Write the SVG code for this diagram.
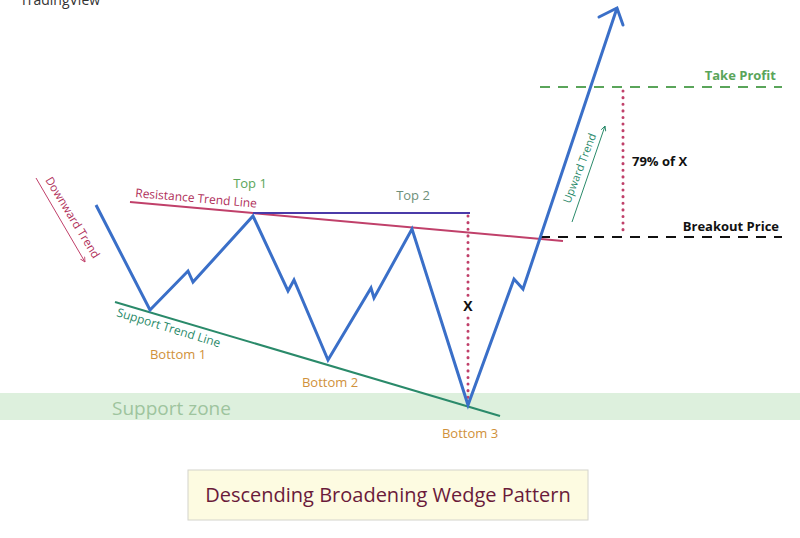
<svg xmlns="http://www.w3.org/2000/svg" width="800" height="538" viewBox="0 0 800 538">
<defs>
<style>
text{font-family:"Open Sans","DejaVu Sans",sans-serif;}
.lbl{font-size:13px;}
.bot{fill:#d0913a;font-size:13px;text-anchor:middle;}
.price{fill:none;stroke:#3a6fc8;stroke-width:3;stroke-linejoin:miter;}
.dot{stroke:#c0406a;stroke-width:3;stroke-dasharray:0.1 6.5;stroke-linecap:round;fill:none;}
</style>
<marker id="arrR" viewBox="0 0 10 10" refX="9" refY="5" markerWidth="6" markerHeight="6" orient="auto"><path d="M1,1 L9,5 L1,9" fill="none" stroke="#c0406a" stroke-width="1.5"/></marker>
<marker id="arrG" viewBox="0 0 10 10" refX="9" refY="5" markerWidth="6" markerHeight="6" orient="auto"><path d="M1,1 L9,5 L1,9" fill="none" stroke="#2a8a6a" stroke-width="1.5"/></marker>
</defs>
<rect width="800" height="538" fill="#ffffff"/>
<text x="20" y="5" font-size="14" fill="#333">TradingView</text>
<g id="support-zone">
<rect x="0" y="393" width="800" height="27" fill="#ddf0dd"/>
<text x="112" y="415" font-size="19" fill="#9ec49e">Support zone</text>
</g>
<g id="connectors">
<line x1="130" y1="202" x2="563" y2="241" stroke="#c0406a" stroke-width="2"/>
<line x1="253" y1="213" x2="470" y2="213" stroke="#4a3aa8" stroke-width="2"/>
<line x1="115" y1="302" x2="500" y2="416" stroke="#2a8a6a" stroke-width="2"/>
<line x1="540" y1="87" x2="782" y2="87" stroke="#5aa55a" stroke-width="2" stroke-dasharray="10 8"/>
<line x1="540" y1="237" x2="782" y2="237" stroke="#111" stroke-width="2" stroke-dasharray="10 8"/>
<line x1="468" y1="216" x2="468" y2="296" class="dot"/>
<line x1="468" y1="318" x2="468" y2="402" class="dot"/>
<line x1="623" y1="91" x2="623" y2="235" class="dot"/>
<line x1="36" y1="178" x2="85" y2="262" stroke="#c0406a" stroke-width="1" marker-end="url(#arrR)"/>
<line x1="572" y1="222" x2="605" y2="126" stroke="#2a8a6a" stroke-width="1" marker-end="url(#arrG)"/>
<polyline class="price" points="96,205 150,310 188,271 193,282 253,216 288,291 294,280 328,360 371,288 374,298 412,229 468,405 514,279 523,289 617,8"/>
<polyline class="price" points="599,17 617,8 623,25" stroke-linecap="round"/>
</g>
<g id="labels">
<text x="250" y="188" class="lbl" fill="#5aa55a" text-anchor="middle">Top 1</text>
<text x="413" y="200" class="lbl" fill="#6e8f7a" text-anchor="middle">Top 2</text>
<text x="135" y="197" font-size="12" fill="#b0305a" transform="rotate(5 135 197)">Resistance Trend Line</text>
<text x="116" y="316" font-size="12" fill="#2a8a6a" transform="rotate(17 116 316)">Support Trend Line</text>
<text x="178" y="359" class="bot">Bottom 1</text>
<text x="330" y="387" class="bot">Bottom 2</text>
<text x="470" y="438" class="bot">Bottom 3</text>
<text x="45" y="180" font-size="11.5" fill="#b0305a" transform="rotate(58.5 45 180)">Downward Trend</text>
<text x="570" y="204" font-size="11" fill="#2a8a6a" transform="rotate(-69 570 204)">Upward Trend</text>
<text x="468" y="311" font-size="14" font-weight="bold" fill="#111" text-anchor="middle">X</text>
<text x="776" y="80" font-size="13" font-weight="bold" fill="#5aa55a" text-anchor="end">Take Profit</text>
<text x="779" y="231" font-size="13" font-weight="bold" fill="#111" text-anchor="end">Breakout Price</text>
<text x="632" y="166" font-size="13" font-weight="bold" fill="#111">79% of X</text>
</g>
<g id="title">
<rect x="188" y="470" width="400" height="50" fill="#fdfbe1" stroke="#d4d4cc" stroke-width="1"/>
<text x="388" y="502" font-size="20" fill="#6a1a3a" text-anchor="middle">Descending Broadening Wedge Pattern</text>
</g>
</svg>
